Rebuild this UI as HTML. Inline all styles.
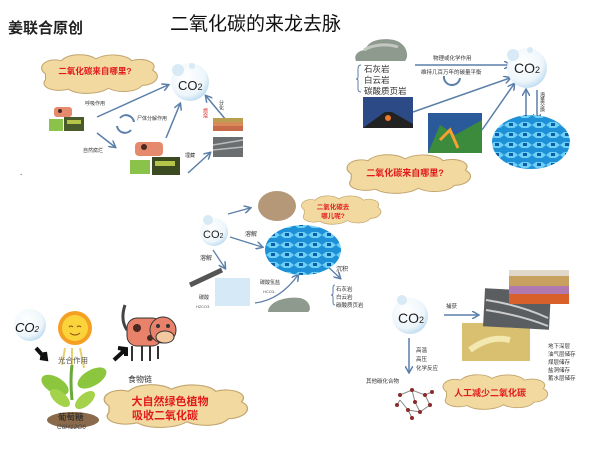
<!DOCTYPE html>
<html><head><meta charset="utf-8">
<style>
html,body{margin:0;padding:0;background:#fff;}
svg{display:block;}
text{font-family:"Liberation Sans","Noto Sans CJK SC",sans-serif;}
</style></head>
<body>
<svg width="600" height="450" viewBox="0 0 600 450" xmlns="http://www.w3.org/2000/svg">
<defs>
<marker id="a" markerWidth="8" markerHeight="8" refX="6" refY="4" orient="auto" markerUnits="userSpaceOnUse"><path d="M0,0 L7,4 L0,8" fill="none" stroke="#5b7fa8" stroke-width="1.5"/></marker>
<radialGradient id="bub" cx="0.4" cy="0.35" r="0.7"><stop offset="0" stop-color="#fff"/><stop offset="0.7" stop-color="#eef6fb"/><stop offset="1" stop-color="#b9d9ee"/></radialGradient>
<pattern id="wave" width="14" height="10" patternUnits="userSpaceOnUse"><rect width="14" height="10" fill="#1e90d8"/><path d="M0,5 L4,2 L10,2 L14,5 L10,8 L4,8Z" fill="#6fd0f5"/><rect x="5" y="3" width="4" height="3" fill="#0b5fa8"/></pattern>
<g id="cloud"><path d="M10,20 C0,12 12,2 25,6 C32,-2 50,-2 58,4 C70,-3 88,0 92,6 C104,2 118,8 112,16 C122,22 114,32 102,32 C96,40 78,40 70,35 C60,42 40,42 32,36 C18,40 4,34 10,26 Z" fill="#f2d9a0" stroke="#c0a46c" stroke-width="1"/></g>
</defs>

<text x="8" y="33" font-size="15" font-weight="bold" fill="#222">姜联合原创</text>
<text x="170" y="30" font-size="19" fill="#111">二氧化碳的来龙去脉</text>

<!-- top-left -->
<use href="#cloud" transform="translate(35,55) scale(1.05,0.95)"/>
<text x="95" y="74" font-size="8.5" font-weight="bold" fill="#e21a1a" text-anchor="middle">二氧化碳来自哪里?</text>
<circle cx="190" cy="82" r="19" fill="url(#bub)"/>
<circle cx="178" cy="70" r="6" fill="#d7eaf6"/><circle cx="192" cy="66" r="3" fill="#d7eaf6"/>
<text x="178" y="90" font-size="13" fill="#222">CO<tspan font-size="9">2</tspan></text>
<g stroke="#5b7fa8" stroke-width="1.5" fill="none" marker-end="url(#a)">
<line x1="97" y1="117" x2="168" y2="85"/>
<line x1="97" y1="133" x2="115" y2="147"/>
<line x1="166" y1="138" x2="180" y2="104"/>
<line x1="188" y1="173" x2="210" y2="153"/>
<line x1="226" y1="120" x2="206" y2="96"/>
</g>
<path d="M120,118 A8,8 0 0 1 134,122 M131,130 A8,8 0 0 1 117,126" stroke="#5b7fa8" stroke-width="2" fill="none"/>
<text x="85" y="105" font-size="5" fill="#333">呼吸作用</text>
<text x="137" y="120" font-size="5" fill="#333">尸体分解作用</text>
<text x="83" y="152" font-size="5" fill="#333">自然腐烂</text>
<text x="185" y="157" font-size="5" fill="#333">埋藏</text>
<text x="205" y="108" font-size="5" fill="#e21a1a" writing-mode="tb">燃烧</text>
<text x="221" y="100" font-size="5" fill="#333" writing-mode="tb">分化</text>
<rect x="54" y="107" width="18" height="10" rx="3" fill="#e58a6d"/><circle cx="60" cy="111" r="2" fill="#4a2a20"/>
<rect x="49" y="119" width="14" height="12" fill="#8bc34a"/><rect x="64" y="117" width="20" height="14" fill="#4a5a2a"/><rect x="67" y="120" width="14" height="4" fill="#b6c44a"/>
<rect x="135" y="142" width="28" height="14" rx="4" fill="#e58a6d"/><circle cx="144" cy="147" r="3" fill="#4a2a20"/>
<rect x="130" y="160" width="20" height="14" fill="#8bc34a"/><rect x="152" y="157" width="28" height="18" fill="#3c4a22"/><rect x="155" y="161" width="20" height="5" fill="#b6c44a"/>
<rect x="213" y="118" width="30" height="4" fill="#b8a050"/><rect x="213" y="122" width="30" height="4" fill="#d98a5a"/><rect x="213" y="126" width="30" height="5" fill="#c76a4a"/>
<rect x="213" y="137" width="30" height="20" fill="#6a6e70"/><path d="M213,145 L243,140 M213,150 L243,147" stroke="#bbb" stroke-width="1.5"/>
<text x="20" y="175" font-size="8" fill="#000">.</text>

<!-- top-right -->
<path d="M356,61 C353,54 360,50 366,50 C366,42 380,37 394,40 C406,43 410,55 405,61 Z" fill="#8f9a8f"/>
<path d="M364,50 C372,45 386,43 398,47" stroke="#c2c8c0" stroke-width="3" fill="none"/>
<path d="M361,65 q-3,0 -3,4 v8 q0,2 -2,2 q2,0 2,2 v8 q0,3 3,3" stroke="#5b7fa8" fill="none"/>
<text x="364" y="72" font-size="8.5" fill="#333">石灰岩</text>
<text x="364" y="83" font-size="8.5" fill="#333">白云岩</text>
<text x="364" y="94" font-size="8.5" fill="#333">碳酸质页岩</text>
<rect x="363" y="97" width="50" height="31" fill="#2b4a86"/><path d="M363,128 L385,112 L392,112 L413,124 L413,128Z" fill="#222"/><circle cx="388" cy="118" r="3" fill="#f07a2a"/>
<rect x="428" y="113" width="54" height="40" fill="#2a5a9a"/><path d="M428,153 L440,125 L455,135 L482,120 L482,153Z" fill="#3c8a3c"/><path d="M440,140 L450,130 L458,148" stroke="#f5a030" stroke-width="3" fill="none"/>
<g stroke="#5b7fa8" stroke-width="1.5" fill="none" marker-end="url(#a)">
<line x1="415" y1="65" x2="510" y2="65"/>
<line x1="413" y1="112" x2="510" y2="78"/>
<line x1="482" y1="130" x2="514" y2="84"/>
<line x1="526" y1="120" x2="526" y2="90"/>
<line x1="537" y1="90" x2="537" y2="120"/>
</g>
<text x="433" y="60" font-size="5.5" fill="#333">物理或化学作用</text>
<text x="421" y="74" font-size="5.5" fill="#333">维持几百万年的碳量平衡</text>
<path d="M444,76 A8,8 0 0 0 460,78" stroke="#5b7fa8" stroke-width="2" fill="none"/>
<circle cx="527" cy="68" r="20" fill="url(#bub)"/>
<circle cx="513" cy="55" r="6" fill="#d7eaf6"/><circle cx="530" cy="50" r="3" fill="#d7eaf6"/>
<text x="514" y="73" font-size="14" fill="#222">CO<tspan font-size="9">2</tspan></text>
<text x="542" y="92" font-size="5" fill="#333" writing-mode="tb">海量交换</text>
<ellipse cx="531" cy="142" rx="39" ry="27" fill="url(#wave)"/>
<use href="#cloud" transform="translate(340,155) scale(1.12,0.95)"/>
<text x="405" y="176" font-size="9" font-weight="bold" fill="#e21a1a" text-anchor="middle">二氧化碳来自哪里?</text>

<!-- middle -->
<circle cx="214" cy="232" r="14" fill="url(#bub)"/><circle cx="208" cy="220" r="5" fill="#d7eaf6"/>
<text x="203" y="238" font-size="11" fill="#222">CO<tspan font-size="7">2</tspan></text>
<g stroke="#5b7fa8" stroke-width="1.3" fill="none" marker-end="url(#a)">
<line x1="228" y1="214" x2="250" y2="208"/>
<line x1="230" y1="237" x2="262" y2="247"/>
<line x1="213" y1="250" x2="225" y2="268"/>
<path d="M255,303 Q280,300 298,275"/>
<line x1="325" y1="264" x2="340" y2="278"/>
</g>
<ellipse cx="277" cy="206" rx="19" ry="15" fill="#b49878"/>
<use href="#cloud" transform="translate(297,196) scale(0.72,0.7)"/>
<text x="333" y="209" font-size="6.5" font-weight="bold" fill="#e21a1a" text-anchor="middle">二氧化碳去</text>
<text x="333" y="218" font-size="6.5" font-weight="bold" fill="#e21a1a" text-anchor="middle">哪儿呢?</text>
<text x="245" y="236" font-size="6" fill="#333">溶解</text>
<ellipse cx="303" cy="250" rx="38" ry="25" fill="url(#wave)"/>
<text x="200" y="260" font-size="6" fill="#333">溶解</text>
<path d="M190,285 L222,270" stroke="#555" stroke-width="5"/>
<rect x="215" y="278" width="35" height="28" fill="#d5e9f6"/>
<text x="199" y="299" font-size="5" fill="#333">碳酸</text>
<text x="196" y="308" font-size="4" fill="#555">H2CO3</text>
<text x="260" y="284" font-size="5" fill="#333">碳酸氢盐</text>
<text x="263" y="293" font-size="4" fill="#555">HCO3-</text>
<path d="M268,312 C268,302 285,296 300,298 C310,300 312,310 308,312Z" fill="#8f9a8f"/>
<text x="336" y="271" font-size="6" fill="#333">沉积</text>
<path d="M335,285 q-2,0 -2,3 v5 q0,2 -2,2 q2,0 2,2 v5 q0,3 2,3" stroke="#5b7fa8" fill="none"/>
<text x="336" y="291" font-size="5.5" fill="#333">石灰岩</text>
<text x="336" y="299" font-size="5.5" fill="#333">白云岩</text>
<text x="336" y="307" font-size="5.5" fill="#333">碳酸质页岩</text>

<!-- bottom-left -->
<circle cx="30" cy="325" r="16" fill="url(#bub)"/>
<text x="15" y="332" font-size="13" font-style="italic" fill="#111">CO<tspan font-size="8">2</tspan></text>
<circle cx="75" cy="328" r="17" fill="#f6a023"/><circle cx="75" cy="328" r="13" fill="#fbd33b"/>
<path d="M69,327 q2,-2 4,0 M77,327 q2,-2 4,0 M70,333 q5,4 10,0" stroke="#8a4a10" fill="none"/>
<path d="M36,348 L45,358 M40,358 L46,359 L45,352" stroke="#111" stroke-width="4"/>
<path d="M65,348 L62,365 M72,348 L72,368 M80,348 L84,368" stroke="#e8d070" stroke-width="2"/>
<text x="58" y="363" font-size="7.5" fill="#555">光合作用</text>
<path d="M72,400 Q70,380 72,365" stroke="#6aa83a" stroke-width="3" fill="none"/>
<ellipse cx="55" cy="385" rx="15" ry="8" fill="#8cc63f" transform="rotate(30 55 385)"/>
<ellipse cx="92" cy="378" rx="16" ry="8" fill="#8cc63f" transform="rotate(-30 92 378)"/>
<ellipse cx="60" cy="398" rx="12" ry="6" fill="#a4d24a" transform="rotate(40 60 398)"/>
<ellipse cx="85" cy="400" rx="12" ry="6" fill="#a4d24a" transform="rotate(-40 85 400)"/>
<ellipse cx="73" cy="420" rx="26" ry="8" fill="#8a6a4a"/>
<text x="58" y="420" font-size="8.5" fill="#222">葡萄糖</text>
<text x="57" y="429" font-size="6.5" font-style="italic" fill="#444">C6H12O6</text>
<path d="M114,360 L125,350 M118,348 L126,349 L126,356" stroke="#111" stroke-width="4"/>
<text x="128" y="382" font-size="8" fill="#333">食物链</text>
<path d="M125,305 q-5,15 2,25" stroke="#444" stroke-width="3" fill="none"/>
<rect x="127" y="318" width="35" height="28" rx="10" fill="#e9826a" stroke="#333"/>
<path d="M132,346 v15 M142,346 v15 M150,346 v15 M158,346 v13" stroke="#333" stroke-width="2"/>
<circle cx="137" cy="328" r="4" fill="#4a2a20"/><circle cx="150" cy="338" r="3" fill="#4a2a20"/>
<ellipse cx="163" cy="330" rx="13" ry="13" fill="#e9826a" stroke="#333"/>
<ellipse cx="165" cy="337" rx="9" ry="6" fill="#f4c9a0" stroke="#333"/>
<circle cx="158" cy="326" r="2" fill="#333"/><circle cx="168" cy="326" r="2" fill="#333"/>
<use href="#cloud" transform="translate(96,385) scale(1.3,1.05)"/>
<text x="170" y="405" font-size="11" font-weight="bold" fill="#e21a1a" text-anchor="middle">大自然绿色植物</text>
<text x="165" y="419" font-size="11" font-weight="bold" fill="#e21a1a" text-anchor="middle">吸收二氧化碳</text>

<!-- bottom-right -->
<circle cx="410" cy="316" r="18" fill="url(#bub)"/><circle cx="402" cy="300" r="5" fill="#d7eaf6"/>
<text x="398" y="323" font-size="14" fill="#222">CO<tspan font-size="9">2</tspan></text>
<g stroke="#5b7fa8" stroke-width="1.5" fill="none" marker-end="url(#a)">
<line x1="444" y1="315" x2="478" y2="315"/>
<line x1="409" y1="338" x2="409" y2="372"/>
</g>
<text x="446" y="308" font-size="5.5" fill="#333">捕获</text>
<rect x="462" y="323" width="68" height="38" fill="#d8c070"/><path d="M470,350 Q490,335 510,340" stroke="#f3e8b0" stroke-width="6" fill="none"/>
<rect x="484" y="290" width="66" height="38" fill="#5a5e60" transform="rotate(3 517 309)"/><path d="M486,300 Q520,305 548,318 M486,310 Q520,315 548,326" stroke="#ccc" stroke-width="2" fill="none"/>
<rect x="509" y="270" width="60" height="6" fill="#e0d8c8"/><rect x="509" y="276" width="60" height="10" fill="#c8a060"/><rect x="509" y="286" width="60" height="8" fill="#b07ab0"/><rect x="509" y="294" width="60" height="10" fill="#d8602a"/>
<text x="548" y="348" font-size="5.5" fill="#333">地下深层</text>
<text x="548" y="356" font-size="5.5" fill="#333">油气层储存</text>
<text x="548" y="364" font-size="5.5" fill="#333">煤层储存</text>
<text x="548" y="372" font-size="5.5" fill="#333">盐洞储存</text>
<text x="548" y="380" font-size="5.5" fill="#333">蓄水层储存</text>
<text x="416" y="352" font-size="5.5" fill="#333">高温</text>
<text x="416" y="361" font-size="5.5" fill="#333">高压</text>
<text x="416" y="370" font-size="5.5" fill="#333">化学反应</text>
<text x="366" y="383" font-size="5.5" fill="#333">其他碳化合物</text>
<path d="M400,395 L412,390 L425,395 L430,405 L420,412 L408,410 L400,400 M412,390 L415,402 L420,412 M400,400 L397,405 M425,395 L432,392 M408,410 L412,418" stroke="#888" stroke-width="1" fill="none"/>
<g fill="#8a2a2a"><circle cx="400" cy="395" r="2"/><circle cx="412" cy="390" r="2"/><circle cx="425" cy="395" r="2"/><circle cx="430" cy="405" r="2"/><circle cx="420" cy="412" r="2"/><circle cx="408" cy="410" r="2"/><circle cx="415" cy="402" r="2"/><circle cx="397" cy="405" r="2"/><circle cx="432" cy="392" r="2"/><circle cx="412" cy="418" r="2"/></g>
<use href="#cloud" transform="translate(437,375) scale(0.95,0.85)"/>
<text x="490" y="396" font-size="9" font-weight="bold" fill="#e21a1a" text-anchor="middle">人工减少二氧化碳</text>
</svg>
</body></html>
